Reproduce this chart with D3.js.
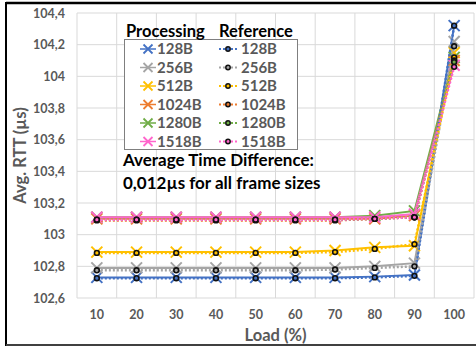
<!DOCTYPE html>
<html>
<head>
<meta charset="utf-8">
<script src="https://cdn.jsdelivr.net/npm/d3@7"></script>
<style>
  html, body { margin: 0; padding: 0; background: #fff; }
  svg { display: block; font-family: Lato, "Open Sans", sans-serif; }
</style>
</head>
<body>
<div id="chart"></div>
<script>
// chart data
const loads = [10, 20, 30, 40, 50, 60, 70, 80, 90, 100];
const frameSizes = ['128B', '256B', '512B', '1024B', '1280B', '1518B'];
const seriesColors = ['#4472C4', '#A5A5A5', '#FFC000', '#ED7D31', '#70AD47', '#FF66CC'];
const yTicks = [102.6, 102.8, 103, 103.2, 103.4, 103.6, 103.8, 104, 104.2, 104.4];

// processing (solid line, x markers)
const proc128 = [102.73, 102.73, 102.73, 102.73, 102.73, 102.73, 102.73, 102.735, 102.745, 104.32];
const proc256 = [102.79, 102.79, 102.79, 102.79, 102.79, 102.79, 102.79, 102.80, 102.82, 104.22];
const proc512 = [102.89, 102.89, 102.89, 102.89, 102.89, 102.89, 102.90, 102.92, 102.93, 104.15];
const proc1024 = [103.10, 103.10, 103.10, 103.10, 103.10, 103.10, 103.10, 103.10, 103.12, 104.10];
const proc1280 = [103.11, 103.11, 103.11, 103.11, 103.11, 103.11, 103.11, 103.12, 103.15, 104.12];
const proc1518 = [103.11, 103.11, 103.11, 103.11, 103.11, 103.11, 103.11, 103.11, 103.13, 104.07];

// reference (dotted line, circle markers)
const ref128 = [102.725, 102.725, 102.725, 102.725, 102.725, 102.725, 102.725, 102.73, 102.74, 104.32];
const ref256 = [102.775, 102.775, 102.775, 102.775, 102.775, 102.775, 102.78, 102.79, 102.80, 104.19];
const ref512 = [102.885, 102.885, 102.885, 102.885, 102.885, 102.885, 102.89, 102.91, 102.94, 104.12];
const ref1024 = [103.09, 103.09, 103.09, 103.09, 103.09, 103.09, 103.09, 103.10, 103.11, 104.10];
const ref1280 = [103.095, 103.095, 103.095, 103.095, 103.095, 103.095, 103.095, 103.10, 103.11, 104.09];
const ref1518 = [103.095, 103.095, 103.095, 103.095, 103.095, 103.095, 103.095, 103.10, 103.11, 104.06];

const procSeries = [proc128, proc256, proc512, proc1024, proc1280, proc1518];
const refSeries = [ref128, ref256, ref512, ref1024, ref1280, ref1518];

const width = 476, height = 347;
const plot = { left: 77, right: 474, top: 13, bottom: 298 };
const textGray = '#595959';

const svg = d3.select('#chart').append('svg')
  .attr('width', width)
  .attr('height', height);

const x = d3.scaleBand().domain(loads).range([plot.left, plot.right]).padding(0);
const y = d3.scaleLinear().domain([102.6, 104.4]).range([plot.bottom, plot.top]);
const cx = d => x(d) + x.bandwidth() / 2;
const fmt = v => String(+v.toFixed(1)).replace('.', ',');

// grid
const grid = svg.append('g').attr('class', 'grid');
grid.selectAll('.hgrid')
  .data(yTicks)
  .join('line')
  .attr('x1', plot.left).attr('x2', plot.right)
  .attr('y1', d => y(d)).attr('y2', d => y(d))
  .attr('stroke', '#D9D9D9').attr('stroke-width', 1);
grid.selectAll('.vgrid')
  .data(loads.concat(['end']))
  .join('line')
  .attr('x1', (d, i) => plot.left + i * x.bandwidth())
  .attr('x2', (d, i) => plot.left + i * x.bandwidth())
  .attr('y1', plot.top).attr('y2', plot.bottom)
  .attr('stroke', '#D9D9D9').attr('stroke-width', 1);

// y axis
const yAxis = svg.append('g')
  .attr('transform', `translate(${plot.left - 12},0)`)
  .call(d3.axisLeft(y).tickValues(yTicks).tickSize(0).tickPadding(0).tickFormat(fmt));
yAxis.select('.domain').remove();
yAxis.selectAll('text')
  .attr('fill', textGray)
  .style('font-size', '12.5px')
  .style('font-weight', 'bold')
  .style('font-family', 'Lato, sans-serif');

// x axis
const xAxis = svg.append('g')
  .attr('transform', `translate(0,${plot.bottom + 12})`)
  .call(d3.axisBottom(x).tickSize(0).tickPadding(0));
xAxis.select('.domain').remove();
xAxis.selectAll('text')
  .attr('fill', textGray)
  .attr('dy', '0.71em')
  .style('font-size', '12.5px')
  .style('font-weight', 'bold')
  .style('font-family', 'Lato, sans-serif');

// axis titles
svg.append('text')
  .attr('x', (plot.left + plot.right) / 2)
  .attr('y', 341)
  .attr('text-anchor', 'middle')
  .attr('fill', textGray)
  .style('font-size', '16.5px')
  .style('font-weight', 'bold')
  .text('Load (%)');

svg.append('text')
  .attr('transform', `translate(26,${(plot.top + plot.bottom) / 2}) rotate(-90)`)
  .attr('text-anchor', 'middle')
  .attr('fill', textGray)
  .style('font-size', '16.5px')
  .style('font-weight', 'bold')
  .text('Avg. RTT (µs)');

// lines
const line = d3.line()
  .x((d, i) => cx(loads[i]))
  .y(d => y(d));

const xMark = (s) => `M${-s},${-s}L${s},${s}M${-s},${s}L${s},${-s}`;

procSeries.forEach((vals, k) => {
  const g = svg.append('g').attr('class', 'proc');
  g.append('path')
    .attr('d', line(vals))
    .attr('fill', 'none')
    .attr('stroke', seriesColors[k])
    .attr('stroke-width', 2);
  g.selectAll('path.mark')
    .data(vals)
    .join('path')
    .attr('class', 'mark')
    .attr('transform', (d, i) => `translate(${cx(loads[i])},${y(d)})`)
    .attr('d', xMark(5.5))
    .attr('stroke', seriesColors[k])
    .attr('stroke-width', 2)
    .attr('fill', 'none');
});

refSeries.forEach((vals, k) => {
  const g = svg.append('g').attr('class', 'ref');
  g.append('path')
    .attr('d', line(vals))
    .attr('fill', 'none')
    .attr('stroke', seriesColors[k])
    .attr('stroke-width', 2.5)
    .attr('stroke-dasharray', '2,2');
  g.selectAll('circle')
    .data(vals)
    .join('circle')
    .attr('cx', (d, i) => cx(loads[i]))
    .attr('cy', d => y(d))
    .attr('r', 2.4)
    .attr('fill', seriesColors[k])
    .attr('stroke', '#111')
    .attr('stroke-width', 1.6);
});

// legend
const legend = svg.append('g').attr('class', 'legend');
legend.append('rect')
  .attr('x', 124.5).attr('y', 39.5)
  .attr('width', 173).attr('height', 110)
  .attr('fill', '#fff')
  .attr('stroke', '#7F7F7F')
  .attr('stroke-width', 1);

legend.append('text')
  .attr('x', 126).attr('y', 37)
  .style('font-size', '16.5px').style('font-weight', 'bold')
  .attr('fill', '#000')
  .text('Processing');
legend.append('text')
  .attr('x', 219).attr('y', 37)
  .style('font-size', '16.5px').style('font-weight', 'bold')
  .attr('fill', '#000')
  .text('Reference');

const rows = legend.selectAll('.row')
  .data(frameSizes)
  .join('g')
  .attr('class', 'row')
  .attr('transform', (d, i) => `translate(0,${49 + i * 18.5})`);

rows.append('line')
  .attr('x1', 140).attr('x2', 156).attr('y1', 0).attr('y2', 0)
  .attr('stroke', (d, i) => seriesColors[i]).attr('stroke-width', 1.5);
rows.append('path')
  .attr('transform', 'translate(148,0)')
  .attr('d', xMark(4.5))
  .attr('stroke', (d, i) => seriesColors[i])
  .attr('stroke-width', 1.8)
  .attr('fill', 'none');
rows.append('text')
  .attr('x', 157).attr('y', 0).attr('dy', '0.36em')
  .attr('fill', textGray)
  .style('font-size', '15px').style('font-weight', 'bold')
  .text(d => d);

rows.append('line')
  .attr('x1', 219).attr('x2', 237).attr('y1', 0).attr('y2', 0)
  .attr('stroke', (d, i) => seriesColors[i]).attr('stroke-width', 2)
  .attr('stroke-dasharray', '2,2');
rows.append('circle')
  .attr('cx', 228).attr('cy', 0).attr('r', 2.2)
  .attr('fill', (d, i) => seriesColors[i])
  .attr('stroke', '#111').attr('stroke-width', 1.5);
rows.append('text')
  .attr('x', 241).attr('y', 0).attr('dy', '0.36em')
  .attr('fill', textGray)
  .style('font-size', '15px').style('font-weight', 'bold')
  .text(d => d);

// note
svg.append('text')
  .attr('x', 123).attr('y', 166)
  .style('font-size', '17px').style('font-weight', 'bold')
  .attr('fill', '#000')
  .text('Average Time Difference:');
svg.append('text')
  .attr('x', 123).attr('y', 189)
  .style('font-size', '17px').style('font-weight', 'bold')
  .attr('fill', '#000')
  .text('0,012µs for all frame sizes');

// frame
svg.append('line').attr('x1', 6).attr('x2', width).attr('y1', 3).attr('y2', 3)
  .attr('stroke', '#000').attr('stroke-width', 2.5);
svg.append('line').attr('x1', 6).attr('x2', 6).attr('y1', 2).attr('y2', 346)
  .attr('stroke', '#000').attr('stroke-width', 2);
svg.append('line').attr('x1', 6).attr('x2', width).attr('y1', 345).attr('y2', 345)
  .attr('stroke', '#404040').attr('stroke-width', 2);
</script>
</body>
</html>
